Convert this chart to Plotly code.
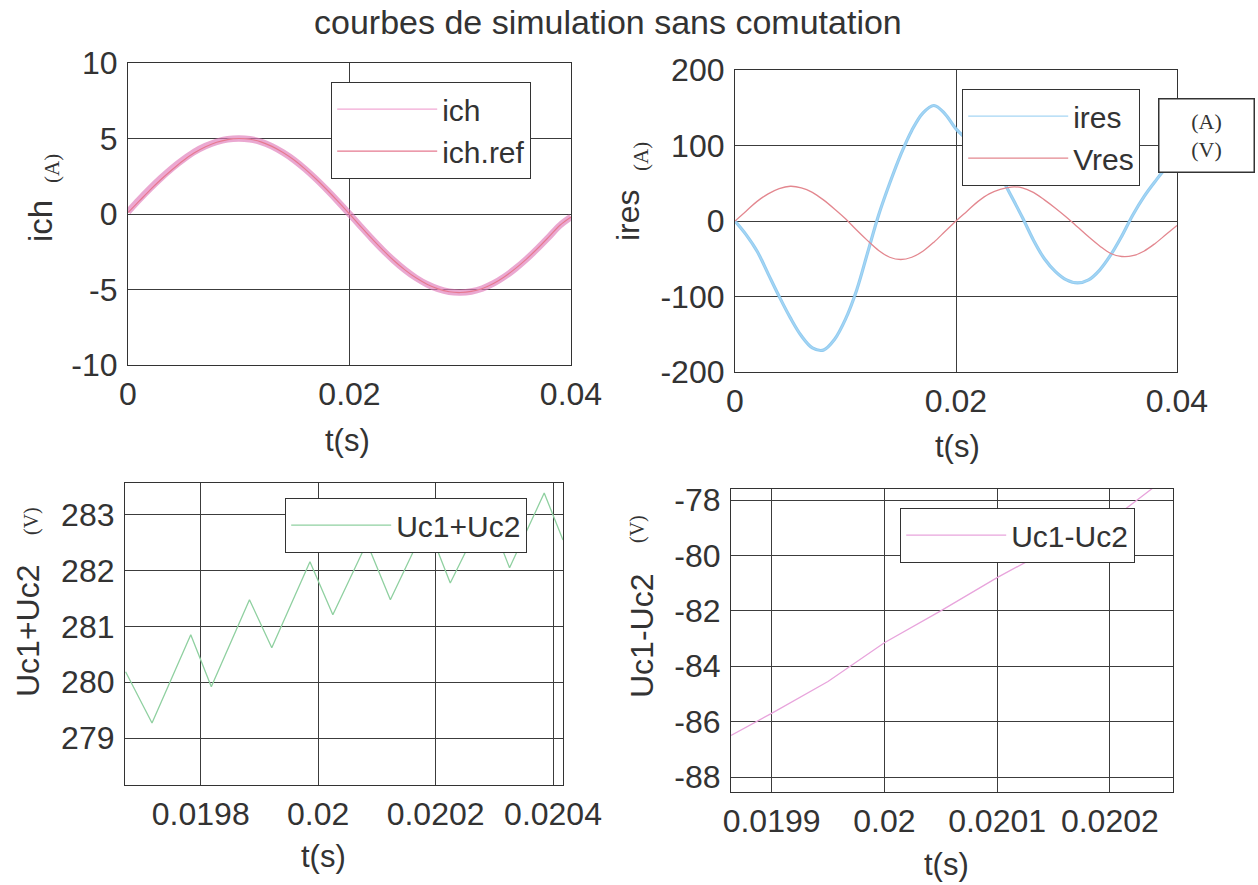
import plotly.graph_objects as go

# ---------------- data ----------------
# sample instants (ms) for the two 0..40 ms panels
t_ms = [0, 1, 2, 3, 4, 5, 6, 7, 8, 9, 10, 11, 12, 13, 14, 15, 16, 17, 18, 19, 20,
        21, 22, 23, 24, 25, 26, 27, 28, 29, 30, 31, 32, 33, 34, 35, 36, 37, 38, 39, 40]

# load current and its reference (A)
ich = [0.15, 0.95, 1.7, 2.4, 3.05, 3.62, 4.12, 4.5, 4.78, 4.95, 5.0, 4.95, 4.78, 4.48, 4.07,
       3.57, 2.97, 2.3, 1.57, 0.8, 0.0, -0.82, -1.62, -2.38, -3.08, -3.7, -4.23, -4.65,
       -4.96, -5.15, -5.2, -5.13, -4.93, -4.6, -4.15, -3.6, -2.97, -2.27, -1.52, -0.75, -0.2]
ich_ref = [0.1, 0.85, 1.6, 2.3, 2.95, 3.55, 4.05, 4.45, 4.75, 4.93, 5.0, 4.95, 4.78, 4.48,
           4.07, 3.57, 2.97, 2.3, 1.57, 0.8, 0.0, -0.82, -1.62, -2.38, -3.08, -3.7, -4.23,
           -4.65, -4.96, -5.15, -5.2, -5.13, -4.93, -4.6, -4.15, -3.6, -2.97, -2.27, -1.52,
           -0.75, -0.2]

# grid current (A) and grid voltage (V)
ires = [0, -18, -40, -70, -100, -128, -152, -168, -171, -157, -130, -92, -42, 8, 50, 88,
        120, 143, 153, 142, 122, 108, 95, 80, 60, 33, 5, -25, -50, -67, -78, -82, -78, -65,
        -45, -20, 8, 32, 52, 70, 82]
vres = [0, 13, 26, 36, 43, 46, 44, 38, 28, 16, 3, -12, -26, -39, -48, -51, -48, -40, -28,
        -14, 0, 13, 26, 36, 42, 45, 44, 38, 28, 17, 5, -8, -21, -33, -43, -47, -46, -40,
        -30, -18, -6]

# DC bus voltage around t = 20 ms (switching ripple vertices)
t_sum = [0.019672, 0.019717, 0.019783, 0.019818, 0.019883, 0.019921, 0.019986, 0.020025,
         0.020083, 0.020123, 0.020185, 0.020225, 0.020287, 0.020326, 0.020385, 0.020417]
uc_sum = [280.19, 279.27, 280.85, 279.92, 281.48, 280.62, 282.16, 281.21, 282.50, 281.48,
          282.85, 281.78, 283.10, 282.05, 283.39, 282.55]

# capacitor voltage unbalance around t = 20 ms
t_diff = [0.019864, 0.01990, 0.01995, 0.02000, 0.02005, 0.02010, 0.02015, 0.02020, 0.020245]
uc_diff = [-86.5, -85.7, -84.55, -83.15, -82.0, -80.8, -79.7, -78.75, -77.35]

# axis ticks
x_ticks_long = [0, 0.02, 0.04]
x_text_long = ["0", "0.02", "0.04"]
y_ticks_ich = [-10, -5, 0, 5, 10]
y_text_ich = ["-10", "-5", "0", "5", "10"]
y_ticks_res = [-200, -100, 0, 100, 200]
y_text_res = ["-200", "-100", "0", "100", "200"]
x_ticks_sum = [0.0198, 0.0200, 0.0202, 0.0204]
x_text_sum = ["0.0198", "0.02", "0.0202", "0.0204"]
y_ticks_sum = [279, 280, 281, 282, 283]
y_text_sum = ["279", "280", "281", "282", "283"]
x_ticks_diff = [0.0199, 0.0200, 0.0201, 0.0202]
x_text_diff = ["0.0199", "0.02", "0.0201", "0.0202"]
y_ticks_diff = [-88, -86, -84, -82, -80, -78]
y_text_diff = ["-88", "-86", "-84", "-82", "-80", "-78"]

t_s = [v / 1000 for v in t_ms]

W, H = 1258, 885
FONT = "Liberation Sans, Arial, sans-serif"
SERIF = "Liberation Serif, Times New Roman, serif"
INK = "#333333"
TICK_SIZE = 32


def px(x):
    return x / W


def py(y):
    return 1 - y / H


fig = go.Figure()

# ---- top-left: ich (ripple band + trace) / ich.ref ----
fig.add_trace(go.Scatter(x=t_s, y=ich, mode="lines", line_shape="spline",
                         line=dict(color="#e07ab9", width=6.5), opacity=0.65,
                         showlegend=False, hoverinfo="skip", xaxis="x", yaxis="y"))
fig.add_trace(go.Scatter(x=t_s, y=ich, name="ich", mode="lines", line_shape="spline",
                         line=dict(color="#f2a8d4", width=1.2), legend="legend",
                         xaxis="x", yaxis="y"))
fig.add_trace(go.Scatter(x=t_s, y=ich_ref, name="ich.ref", mode="lines", line_shape="spline",
                         line=dict(color="#e5798f", width=1.2), legend="legend",
                         xaxis="x", yaxis="y"))

# ---- top-right: ires (ripple band + trace) / Vres ----
fig.add_trace(go.Scatter(x=t_s, y=ires, mode="lines", line_shape="spline",
                         line=dict(color="#7fc3ee", width=3.2), opacity=0.85,
                         showlegend=False, hoverinfo="skip", xaxis="x2", yaxis="y2"))
fig.add_trace(go.Scatter(x=t_s, y=ires, name="ires", mode="lines", line_shape="spline",
                         line=dict(color="#a6d6f4", width=1.2), legend="legend2",
                         xaxis="x2", yaxis="y2"))
fig.add_trace(go.Scatter(x=t_s, y=vres, name="Vres", mode="lines", line_shape="spline",
                         line=dict(color="#e3878f", width=1.3), legend="legend2",
                         xaxis="x2", yaxis="y2"))

# ---- bottom-left: Uc1+Uc2 ----
fig.add_trace(go.Scatter(x=t_sum, y=uc_sum, name="Uc1+Uc2", mode="lines",
                         line=dict(color="#8fd0a0", width=1.3), legend="legend3",
                         xaxis="x3", yaxis="y3"))

# ---- bottom-right: Uc1-Uc2 ----
fig.add_trace(go.Scatter(x=t_diff, y=uc_diff, name="Uc1-Uc2", mode="lines",
                         line=dict(color="#e8a4dc", width=1.3), legend="legend4",
                         xaxis="x4", yaxis="y4"))

axis_common = dict(showline=True, mirror=True, linecolor=INK, linewidth=1.2,
                   showgrid=True, gridcolor="#3c3c3c", gridwidth=1, zeroline=False,
                   automargin=False, ticks="",
                   tickfont=dict(family=FONT, size=TICK_SIZE, color=INK))


def xax(domain, rng, vals, text, anchor):
    return dict(axis_common, domain=domain, range=rng, tickmode="array", tickvals=vals,
                ticktext=text, anchor=anchor, ticklabelstandoff=0)


def yax(domain, rng, vals, text, anchor):
    return dict(axis_common, domain=domain, range=rng, tickmode="array", tickvals=vals,
                ticktext=text, anchor=anchor, ticklabelstandoff=3)


legend_common = dict(font=dict(family=FONT, size=30, color=INK), bgcolor="white",
                     bordercolor=INK, borderwidth=1.2, xanchor="left", yanchor="top",
                     itemwidth=100, tracegroupgap=0)

fig.update_layout(
    width=W, height=H, margin=dict(l=0, r=0, t=0, b=0, pad=0, autoexpand=False),
    paper_bgcolor="white", plot_bgcolor="white",
    xaxis=xax([px(128), px(571)], [0, 0.04], x_ticks_long, x_text_long, "y"),
    yaxis=yax([py(365), py(63)], [-10, 10], y_ticks_ich, y_text_ich, "x"),
    xaxis2=xax([px(735), px(1177)], [0, 0.04], x_ticks_long, x_text_long, "y2"),
    yaxis2=yax([py(372), py(70)], [-200, 200], y_ticks_res, y_text_res, "x2"),
    xaxis3=xax([px(125), px(563)], [0.019671, 0.020417], x_ticks_sum, x_text_sum, "y3"),
    yaxis3=yax([py(785), py(483)], [278.16, 283.57], y_ticks_sum, y_text_sum, "x3"),
    xaxis4=xax([px(731), px(1173)], [0.019864, 0.020256], x_ticks_diff, x_text_diff, "y4"),
    yaxis4=yax([py(792), py(489)], [-88.54, -77.6], y_ticks_diff, y_text_diff, "x4"),
    legend=dict(legend_common, x=px(331), y=py(82)),
    legend2=dict(legend_common, x=px(962), y=py(89)),
    legend3=dict(legend_common, x=px(285), y=py(498)),
    legend4=dict(legend_common, x=px(900), y=py(508)),
    showlegend=True,
)

annotations = [
    dict(text="courbes de simulation sans comutation", x=px(608), y=py(22),
         font=dict(family=FONT, size=34, color=INK)),
    # x-axis titles
    dict(text="t(s)", x=px(348), y=py(440), font=dict(family=FONT, size=31, color=INK)),
    dict(text="t(s)", x=px(957), y=py(446), font=dict(family=FONT, size=31, color=INK)),
    dict(text="t(s)", x=px(323), y=py(856), font=dict(family=FONT, size=31, color=INK)),
    dict(text="t(s)", x=px(946), y=py(864), font=dict(family=FONT, size=31, color=INK)),
    # y-axis titles
    dict(text="ich", x=px(40), y=py(221), textangle=-90,
         font=dict(family=FONT, size=33, color=INK)),
    dict(text="(A)", x=px(52), y=py(168), textangle=-90,
         font=dict(family=SERIF, size=21, color=INK)),
    dict(text="ires", x=px(628), y=py(215), textangle=-90,
         font=dict(family=FONT, size=32, color=INK)),
    dict(text="(A)", x=px(641), y=py(157), textangle=-90,
         font=dict(family=SERIF, size=21, color=INK)),
    dict(text="Uc1+Uc2", x=px(28), y=py(631), textangle=-90,
         font=dict(family=FONT, size=32, color=INK)),
    dict(text="(V)", x=px(31), y=py(521), textangle=-90,
         font=dict(family=SERIF, size=20, color=INK)),
    dict(text="Uc1-Uc2", x=px(642), y=py(636), textangle=-90,
         font=dict(family=FONT, size=32, color=INK)),
    dict(text="(V)", x=px(637), y=py(529), textangle=-90,
         font=dict(family=SERIF, size=20, color=INK)),
    # unit box next to the ires/Vres legend
    dict(text="(A)<br>(V)", x=px(1206), y=py(136), align="center",
         font=dict(family=SERIF, size=22, color=INK), bordercolor=INK, borderwidth=1.5,
         bgcolor="white", width=92, height=70),
]
for a in annotations:
    a.setdefault("xref", "paper")
    a.setdefault("yref", "paper")
    a.setdefault("showarrow", False)
    a.setdefault("xanchor", "center")
    a.setdefault("yanchor", "middle")
fig.update_layout(annotations=annotations)

fig.write_html("out.html")
